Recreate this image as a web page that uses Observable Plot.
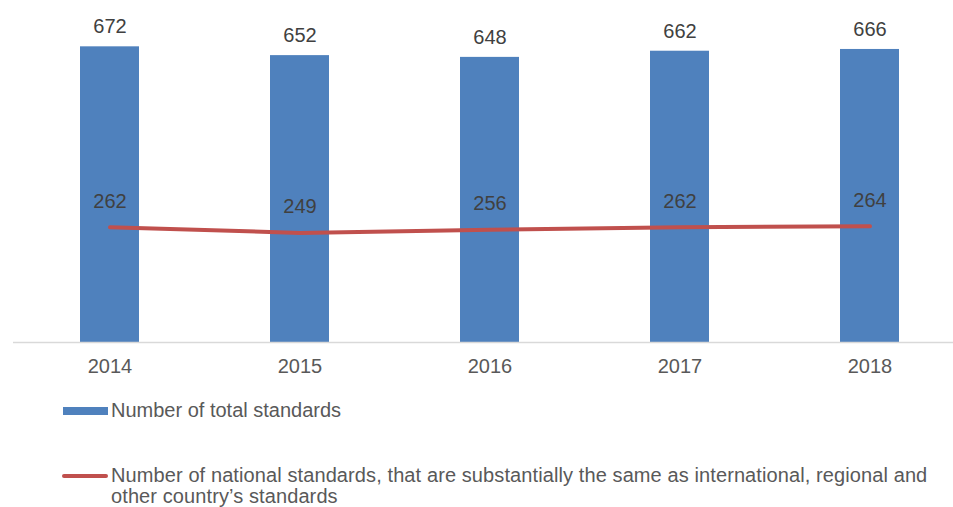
<!DOCTYPE html>
<html>
<head>
<meta charset="utf-8">
<script src="https://cdn.jsdelivr.net/npm/d3@7"></script>
<script src="https://cdn.jsdelivr.net/npm/@observablehq/plot@0.6"></script>
<style>
  html, body { margin: 0; padding: 0; background: #fff; overflow: hidden; width: 953px; height: 507px; position: relative; }
  body { font-family: "Liberation Sans", Arial, sans-serif; }
  #chart { position: absolute; left: 0; top: 0; width: 966px; }
  #chart svg { display: block; max-width: none !important; }
  .legend { position: absolute; left: 0; top: 0; width: 953px; font-size: 20px; color: #595959; }
  .item { position: absolute; left: 62px; display: flex; align-items: flex-start; }
  .sw { flex: none; }
  .txt { line-height: 21px; }
</style>
</head>
<body>
<div id="chart"></div>
<div class="legend">
  <div class="item" id="l1" style="top:400px;">
    <div class="sw" style="width:45px;height:8px;background:#4f81bd;margin-top:7px;margin-left:1px;margin-right:3px;"></div>
    <div class="txt">Number of total standards</div>
  </div>
  <div class="item" id="l2" style="top:465px;">
    <div class="sw" style="width:46px;height:4px;background:#c0504d;border-radius:2px;margin-top:9px;margin-right:3px;"></div>
    <div class="txt" style="width:835px;letter-spacing:0.1px;">Number of national standards, that are substantially the same as international, regional and other country’s standards</div>
  </div>
</div>
<script>
const years = ["2014", "2015", "2016", "2017", "2018"];
const totalStandards = [672, 652, 648, 662, 666];
const nationalStandards = [262, 249, 256, 262, 264];

const data = years.map((y, i) => ({year: y, total: totalStandards[i], national: nationalStandards[i]}));

const chart = Plot.plot({
  width: 966,
  height: 380,
  marginLeft: 13,
  marginRight: 0,
  marginTop: 34,
  marginBottom: 38,
  style: {fontFamily: "'Liberation Sans', Arial, sans-serif", fontSize: "20px", background: "#fff", maxWidth: "none"},
  x: {domain: years, paddingInner: 0.687, paddingOuter: 0.3435, label: null, tickSize: 0, tickPadding: 16},
  y: {domain: [0, 700], axis: null},
  marks: [
    Plot.barY(data, {x: "year", y: "total", fill: "#4f81bd"}),
    Plot.ruleY([0], {stroke: "#d9d9d9", strokeWidth: 1.5}),
    Plot.axisX({tickSize: 0, tickPadding: 16, fontSize: 20, color: "#595959", label: null}),
    Plot.lineY(data, {x: "year", y: "national", stroke: "#c0504d", strokeWidth: 4, strokeLinecap: "round", strokeLinejoin: "round"}),
    Plot.text(data, {x: "year", y: "total", text: d => String(d.total), dy: -20, fill: "#404040", fontSize: 20}),
    Plot.text(data, {x: "year", y: "national", text: d => String(d.national), dy: -26, fill: "#404040", fontSize: 20})
  ]
});
document.getElementById("chart").appendChild(chart);
</script>
</body>
</html>
